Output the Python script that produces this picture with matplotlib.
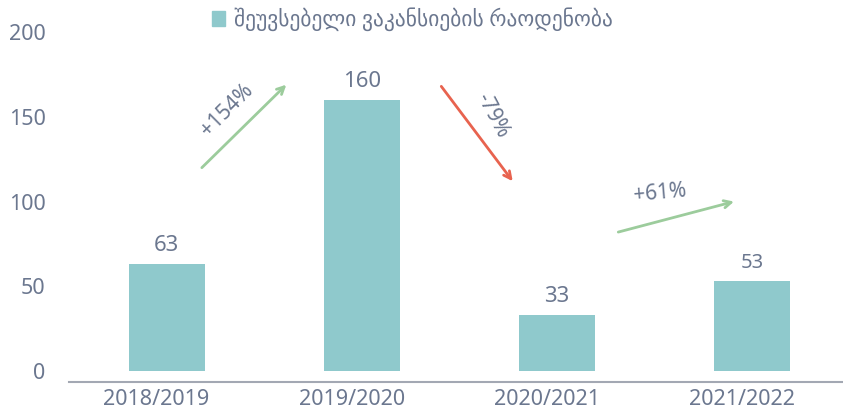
import matplotlib
matplotlib.use("Agg")
import matplotlib.pyplot as plt

categories = ["2018/2019", "2019/2020", "2020/2021", "2021/2022"]
values = [63, 160, 33, 53]
series_name = "შეუვსებელი ვაკანსიების რაოდენობა"
changes = ["+154%", "-79%", "+61%"]

BAR = "#8fc9cc"
TXT = "#6b778f"
GREEN = "#9ccc9c"
RED = "#e8634f"
FONT = ["Noto Sans", "DejaVu Sans"]
plt.rcParams["font.family"] = FONT

fig = plt.figure(figsize=(8.43, 4.12), dpi=100)
ax = fig.add_axes([0.082, 0.0995, 0.926, 0.8225])
x = list(range(len(categories)))
ax.bar(x, values, width=0.39, color=BAR, zorder=2)
ax.set_xlim(-0.5, len(categories) - 0.5)
ax.set_ylim(0, 200)
ax.set_yticks([0, 50, 100, 150, 200])
# category labels sit slightly left of the bar centres, as in the reference
ax.set_xticks([i - 0.052 for i in x])
ax.set_xticklabels(categories)
ax.tick_params(axis="both", length=0, labelsize=15.5, colors=TXT)
ax.tick_params(axis="y", pad=17)
ax.tick_params(axis="x", pad=5)
for s in ["top", "right", "left"]:
    ax.spines[s].set_visible(False)
ax.spines["bottom"].set_position(("outward", 8))
ax.spines["bottom"].set_color("#a3a8b3")
ax.spines["bottom"].set_linewidth(1.5)

for i, v in enumerate(values):
    fs = 14.5 if i == 3 else 16
    ax.annotate(str(v), (i, v), xytext=(0, 6), textcoords="offset points",
                ha="center", va="bottom", fontsize=fs, color=TXT)

# change arrows
arrows = [((0.18, 120), (0.613, 169), GREEN),
          ((1.407, 168), (1.773, 112), RED),
          ((2.314, 82), (2.907, 100), GREEN)]
for (s, e, c) in arrows:
    ax.annotate("", xy=e, xytext=s,
                arrowprops=dict(arrowstyle="->", color=c, lw=2,
                                mutation_scale=13, shrinkA=0, shrinkB=0))

ax.text(0.31, 154, changes[0], rotation=45, ha="center", va="center",
        fontsize=15, color=TXT, rotation_mode="anchor")
ax.text(1.67, 151, changes[1], rotation=-62, ha="center", va="center",
        fontsize=15, color=TXT, rotation_mode="anchor")
ax.text(2.525, 105, changes[2], rotation=5, ha="center", va="center",
        fontsize=15, color=TXT, rotation_mode="anchor")

ax.legend([plt.Rectangle((0, 0), 1, 1, color=BAR)], [series_name],
          loc="upper center", bbox_to_anchor=(0.44, 1.13), frameon=False,
          fontsize=15.5, labelcolor=TXT, handlelength=0.6, handleheight=0.7,
          handletextpad=0.4)

fig.savefig("out.png", dpi=100)
